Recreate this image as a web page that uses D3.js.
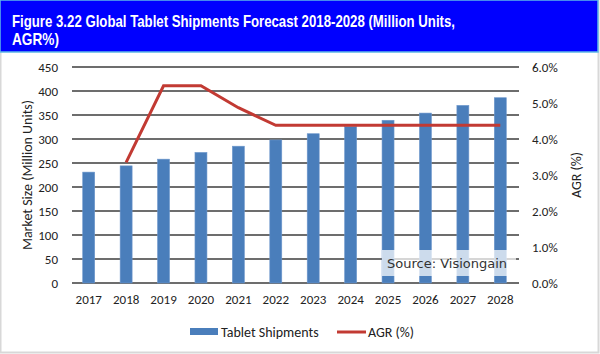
<!DOCTYPE html>
<html>
<head>
<meta charset="utf-8">
<script src="https://cdn.jsdelivr.net/npm/d3@7"></script>
<style>
  body { margin: 0; background: #fff; }
  svg { display: block; }
</style>
</head>
<body>
<div id="chart"></div>
<script>
// Chart data
const years = ["2017", "2018", "2019", "2020", "2021", "2022", "2023", "2024", "2025", "2026", "2027", "2028"];
const shipments = [231, 244, 258, 272, 285, 298, 311, 326, 339, 354, 370, 386];
const agrYears = ["2018", "2019", "2020", "2021", "2022", "2023", "2024", "2025", "2026", "2027", "2028"];
const agr = [3.35, 5.48, 5.48, 4.87, 4.38, 4.38, 4.38, 4.38, 4.38, 4.38, 4.38];
const leftTicks = [0, 50, 100, 150, 200, 250, 300, 350, 400, 450];
const rightTicks = [0, 1, 2, 3, 4, 5, 6];

const width = 600;
const height = 354;
const margin = { top: 67, right: 81, bottom: 71, left: 70 };

const svg = d3.select("#chart")
  .append("svg")
  .attr("width", width)
  .attr("height", height);

// Frame
svg.append("rect")
  .attr("x", 0.5).attr("y", 0.5)
  .attr("width", width - 2).attr("height", height - 2)
  .attr("fill", "#fff")
  .attr("stroke", "#d8d8d8")
  .attr("stroke-width", 2);

// Title bar
svg.append("rect")
  .attr("x", 0).attr("y", 0)
  .attr("width", width - 2).attr("height", 52)
  .attr("fill", "#0000ff")
  .attr("stroke", "#5fb8e8")
  .attr("stroke-width", 1.5);

svg.append("text")
  .attr("x", 12).attr("y", 27)
  .attr("textLength", 443)
  .attr("lengthAdjust", "spacingAndGlyphs")
  .style("font-family", "Liberation Sans, Arial, sans-serif")
  .style("font-weight", "bold")
  .style("font-size", "17px")
  .style("fill", "#fff")
  .text("Figure 3.22 Global Tablet Shipments Forecast 2018-2028 (Million Units,");

svg.append("text")
  .attr("x", 12).attr("y", 45)
  .attr("textLength", 47)
  .attr("lengthAdjust", "spacingAndGlyphs")
  .style("font-family", "Liberation Sans, Arial, sans-serif")
  .style("font-weight", "bold")
  .style("font-size", "17px")
  .style("fill", "#fff")
  .text("AGR%)");

// Scales
const x = d3.scaleBand()
  .domain(years)
  .range([margin.left, width - margin.right])
  .paddingInner(0.68)
  .paddingOuter(0.34);

const y = d3.scaleLinear()
  .domain([0, 450])
  .range([height - margin.bottom, margin.top]);

const y2 = d3.scaleLinear()
  .domain([0, 6])
  .range([height - margin.bottom, margin.top]);

const font = "Carlito, Calibri, 'Open Sans', sans-serif";

// Gridlines
svg.append("g")
  .selectAll("line")
  .data(leftTicks)
  .enter()
  .append("line")
  .attr("x1", margin.left + 2)
  .attr("x2", width - margin.right)
  .attr("y1", d => y(d))
  .attr("y2", d => y(d))
  .attr("stroke", "#3c3c3c")
  .attr("stroke-width", 1.5);

// Bars
svg.append("g")
  .selectAll("rect")
  .data(years)
  .enter()
  .append("rect")
  .attr("x", d => x(d))
  .attr("y", (d, i) => y(shipments[i]))
  .attr("width", x.bandwidth())
  .attr("height", (d, i) => y(0) - y(shipments[i]))
  .attr("fill", "#4a7ebb")
  .attr("stroke", "#6d97cc")
  .attr("stroke-width", 0.6);

// AGR line
const line = d3.line()
  .x((d, i) => x(agrYears[i]) + x.bandwidth() / 2)
  .y(d => y2(d));

svg.append("path")
  .datum(agr)
  .attr("d", line)
  .attr("fill", "none")
  .attr("stroke", "#c23a33")
  .attr("stroke-width", 3);

// Left axis
const leftAxis = svg.append("g")
  .attr("transform", `translate(${margin.left},0)`)
  .call(d3.axisLeft(y).tickValues(leftTicks).tickSize(0).tickPadding(12));
leftAxis.select(".domain").remove();
leftAxis.selectAll("text")
  .style("font-family", font)
  .style("font-size", "13px")
  .style("fill", "#222");

// Right axis
const rightAxis = svg.append("g")
  .attr("transform", `translate(${width - margin.right},0)`)
  .call(d3.axisRight(y2).tickValues(rightTicks).tickSize(0).tickPadding(13)
    .tickFormat(d => d.toFixed(1) + "%"));
rightAxis.select(".domain").remove();
rightAxis.selectAll("text")
  .style("font-family", font)
  .style("font-size", "13px")
  .style("fill", "#222");

// Bottom axis
const bottomAxis = svg.append("g")
  .attr("transform", `translate(0,${height - margin.bottom})`)
  .call(d3.axisBottom(x).tickSize(0).tickPadding(12));
bottomAxis.select(".domain").remove();
bottomAxis.selectAll("text")
  .style("font-family", font)
  .style("font-size", "13px")
  .style("fill", "#222");

// Axis titles
svg.append("text")
  .attr("transform", `translate(27,${(y(0) + y(450)) / 2}) rotate(-90)`)
  .attr("text-anchor", "middle")
  .attr("dy", "0.35em")
  .style("font-family", font)
  .style("font-size", "14px")
  .style("fill", "#222")
  .text("Market Size (Million Units)");

svg.append("text")
  .attr("transform", `translate(576,${(y(0) + y(450)) / 2}) rotate(-90)`)
  .attr("text-anchor", "middle")
  .attr("dy", "0.35em")
  .style("font-family", font)
  .style("font-size", "14px")
  .style("fill", "#222")
  .text("AGR (%)");

// Source box
svg.append("rect")
  .attr("x", 382).attr("y", 250)
  .attr("width", 134).attr("height", 26)
  .attr("fill", "#fff")
  .attr("opacity", 0.72);

svg.append("text")
  .attr("x", 387).attr("y", 268)
  .style("font-family", "DejaVu Sans, Verdana, sans-serif")
  .style("font-size", "13px")
  .style("fill", "#333")
  .text("Source: Visiongain");

// Legend
const legend = svg.append("g")
  .style("font-family", font)
  .style("font-size", "14px")
  .style("fill", "#222");

legend.append("rect")
  .attr("x", 190).attr("y", 328)
  .attr("width", 28).attr("height", 7)
  .attr("fill", "#4a7ebb");
legend.append("text")
  .attr("x", 221).attr("y", 337)
  .text("Tablet Shipments");

legend.append("line")
  .attr("x1", 337).attr("x2", 366)
  .attr("y1", 332).attr("y2", 332)
  .attr("stroke", "#c23a33")
  .attr("stroke-width", 3);
legend.append("text")
  .attr("x", 368).attr("y", 337)
  .text("AGR (%)");
</script>
</body>
</html>
